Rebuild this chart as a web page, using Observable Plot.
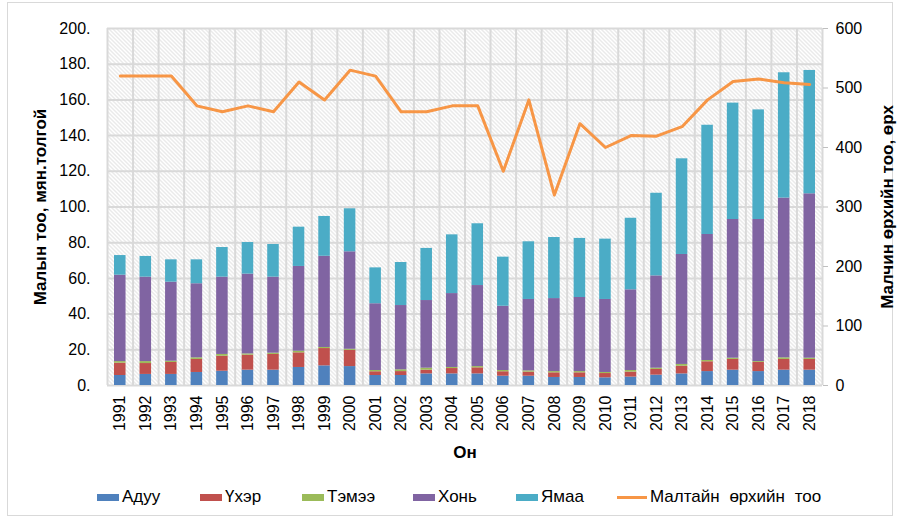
<!DOCTYPE html>
<html><head><meta charset="utf-8">
<script src="https://cdn.jsdelivr.net/npm/d3@7"></script>
<script src="https://cdn.jsdelivr.net/npm/@observablehq/plot@0.6"></script>
<style>
body{margin:0;background:#fff;font-family:Arial,"Liberation Sans",sans-serif;}
#wrap{position:relative;width:901px;height:519px;overflow:hidden;}
#border{position:absolute;left:7px;top:2px;width:886px;height:514px;border:1px solid #d9d9d9;box-sizing:border-box;}
#chart{position:absolute;left:0;top:0;}
.leg{position:absolute;top:488px;height:18px;display:flex;align-items:center;font-size:17px;word-spacing:5px;color:#000;white-space:nowrap;}
.sw{width:22px;height:7px;margin-right:3px;}
.ln{width:30px;height:3px;margin-right:3px;}
</style></head><body>
<div id="wrap"><div id="border"></div><div id="chart"></div><div id="legend"></div></div>
<script>
const years = [1991,1992,1993,1994,1995,1996,1997,1998,1999,2000,2001,2002,2003,2004,2005,2006,2007,2008,2009,2010,2011,2012,2013,2014,2015,2016,2017,2018];
const series = ["Адуу","Үхэр","Тэмээ","Хонь","Ямаа"];
const seriesColors = ["#4F81BD","#C0504D","#9BBB59","#8064A2","#4BACC6"];
const lineName = "Малтайн өрхийн тоо";
const lineColor = "#F79646";

const adyy  = [5.6,6.2,6.2,7.3,8.0,8.6,8.6,10.1,11.0,10.6,5.6,5.6,6.5,6.5,6.5,5.2,5.2,4.5,4.5,4.3,4.7,5.8,6.5,7.8,8.6,7.8,8.6,8.6];
const uher  = [6.9,6.1,6.7,7.3,8.4,8.4,8.8,8.2,9.7,9.1,2.1,2.2,2.1,3.0,3.4,2.5,2.3,2.6,2.6,2.4,2.8,3.2,4.3,5.5,6.0,5.1,6.0,6.0];
const temee = [0.9,1.1,0.7,0.9,1.0,0.7,0.7,0.9,0.6,0.6,0.7,1.0,1.1,0.6,0.7,0.7,0.7,0.7,0.7,0.6,0.9,0.7,1.0,0.7,0.7,0.5,0.9,0.7];
const hon   = [48.4,47.3,44.3,41.5,43.3,44.7,42.6,47.5,51.1,54.6,37.4,36.0,37.9,41.4,45.4,36.0,40.0,40.9,41.5,40.9,45.2,51.7,61.6,70.6,77.7,79.6,89.5,92.1];
const yamaa = [11.0,11.6,12.5,13.4,16.6,17.7,18.3,22.0,22.3,24.1,20.1,24.1,29.2,32.9,34.6,27.5,32.3,34.2,33.1,33.8,40.1,46.3,53.6,61.2,65.2,61.4,70.2,69.1];
const households = [520,520,520,470,460,470,460,510,480,530,520,460,460,470,470,360,480,320,440,400,420,419,435,480,511,515,509,506];

const leftTicks = [0,20,40,60,80,100,120,140,160,180,200];
const rightTicks = [0,100,200,300,400,500,600];
const leftTitle = "Малын тоо, мян.толгой";
const rightTitle = "Малчин өрхийн тоо, өрх";
const xTitle = "Он";

const ratio = 600 / 200;
const values = [adyy, uher, temee, hon, yamaa];
const stacked = [];
years.forEach((yr, i) => {
  let base = 0;
  series.forEach((s, k) => {
    const v = values[k][i];
    stacked.push({year: yr, series: s, y1: base, y2: base + v});
    base += v;
  });
});
const lineData = years.map((yr, i) => ({year: yr, h: households[i]}));
const boundaries = [years[0] - 0.5, ...years.map(y => y + 0.5)];

const svg = Plot.plot({
  width: 901, height: 470,
  marginLeft: 107, marginRight: 79, marginTop: 28, marginBottom: 85,
  style: {fontFamily: "Arial, 'Liberation Sans', sans-serif", fontSize: "16px", color: "#000", background: "transparent", overflow: "visible"},
  x: {domain: [years[0] - 0.5, years[years.length - 1] + 0.5], axis: null},
  y: {domain: [0, 200], axis: null},
  color: {domain: series, range: seriesColors},
  marks: [
    Plot.frame({fill: "url(#hatch)", stroke: null}),
    Plot.ruleY(leftTicks, {stroke: "#d9d9d9", strokeWidth: 2}),
    Plot.ruleX(boundaries, {stroke: "#d9d9d9", strokeWidth: 2}),
    Plot.rectY(stacked, {x1: d => d.year - 0.5, x2: d => d.year + 0.5, y1: "y1", y2: "y2", fill: "series", insetLeft: 7, insetRight: 7}),
    Plot.line(lineData, {x: "year", y: d => d.h / ratio, stroke: lineColor, strokeWidth: 3}),
    Plot.axisY(leftTicks, {anchor: "left", tickSize: 0, tickPadding: 17, tickFormat: d => d + ".", label: null}),
    Plot.axisY(rightTicks.map(v => v / ratio), {anchor: "right", tickSize: 5, tickPadding: 8, stroke: "#bfbfbf", tickFormat: d => String(Math.round(d * ratio)), label: null}),
    Plot.axisX(years, {anchor: "bottom", tickRotate: -90, tickSize: 0, tickPadding: 10, tickFormat: d => String(d), label: null}),
    Plot.text([leftTitle], {text: d => d, frameAnchor: "left", dx: -67, rotate: -90, textAnchor: "middle", fontWeight: "bold", fontSize: 17}),
    Plot.text([rightTitle], {text: d => d, frameAnchor: "right", dx: 65, rotate: -90, textAnchor: "middle", fontWeight: "bold", fontSize: 17}),
    Plot.text([xTitle], {text: d => d, frameAnchor: "bottom", dy: 72, textAnchor: "middle", fontWeight: "bold", fontSize: 17})
  ]
});
d3.select(svg).insert("defs", ":first-child").html(
  '<pattern id="hatch" width="4" height="4" patternUnits="userSpaceOnUse">' +
  '<rect width="4" height="4" fill="#ffffff"/>' +
  '<path d="M-1,-1 L5,5 M3,-1 L5,1 M-1,3 L1,5" stroke="#d4d4d4" stroke-width="1"/></pattern>');
document.getElementById("chart").appendChild(svg);

const legendLeft = [97, 200, 302, 413, 516, 617];
const legend = document.getElementById("legend");
const items = series.map((s, i) => ({name: s, color: seriesColors[i], line: false}))
  .concat([{name: lineName, color: lineColor, line: true}]);
items.forEach((it, i) => {
  const d = document.createElement("div");
  d.className = "leg";
  d.style.left = legendLeft[i] + "px";
  const sw = document.createElement("span");
  sw.className = it.line ? "ln" : "sw";
  sw.style.background = it.color;
  const t = document.createElement("span");
  t.textContent = it.name;
  d.appendChild(sw); d.appendChild(t);
  legend.appendChild(d);
});
</script>
</body></html>
